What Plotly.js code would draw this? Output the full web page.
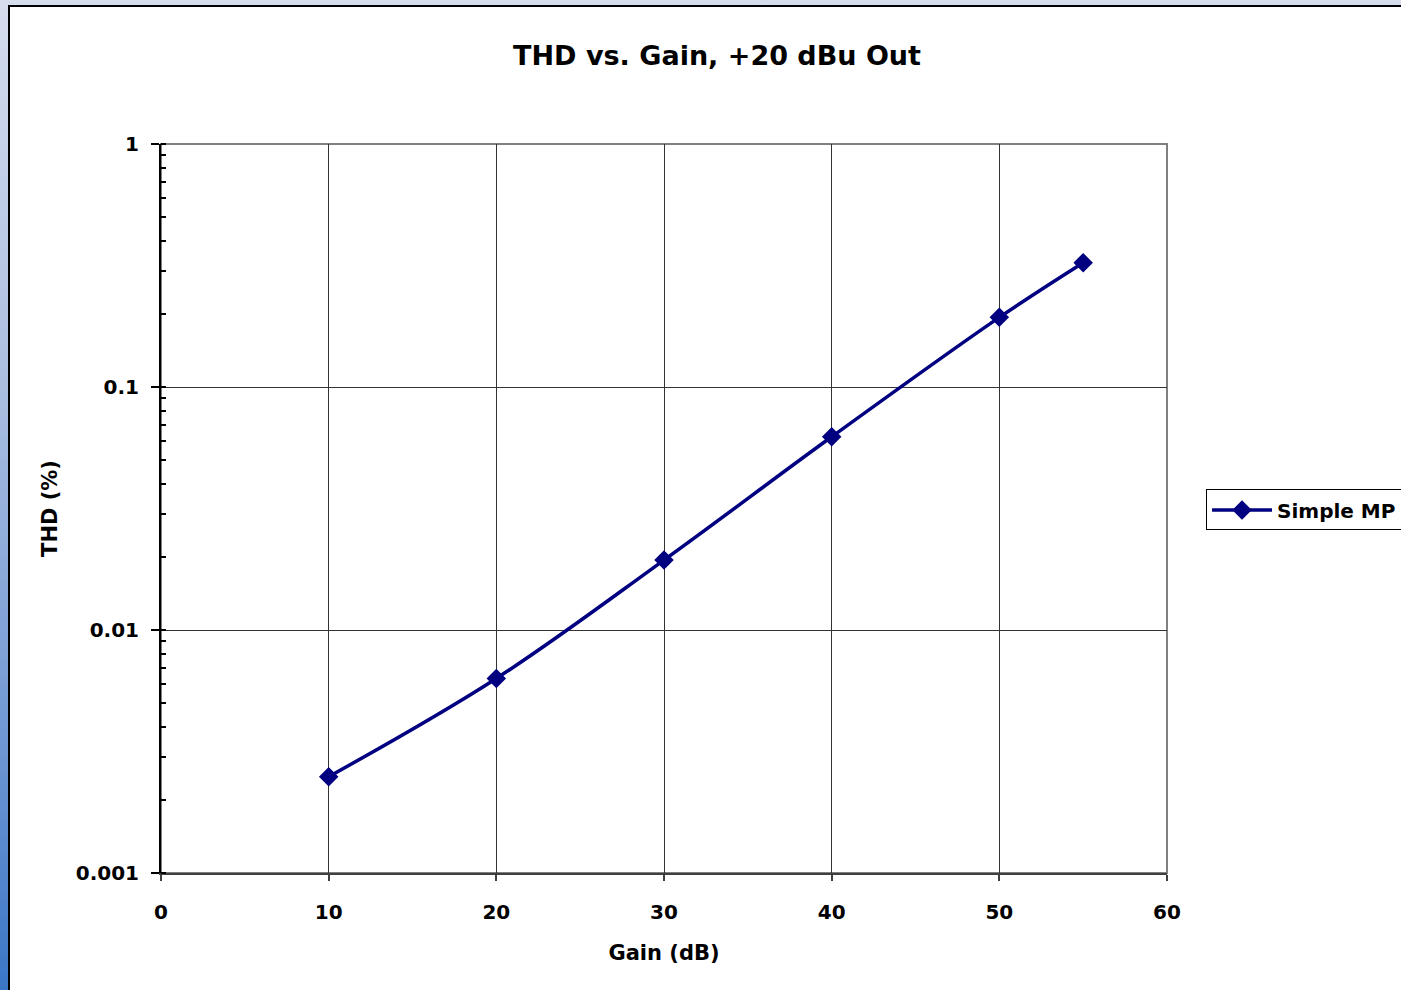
<!DOCTYPE html>
<html>
<head>
<meta charset="utf-8">
<script src="https://cdn.plot.ly/plotly-3.0.1.min.js"></script>
<style>
  html, body { margin: 0; padding: 0; width: 1401px; height: 990px; overflow: hidden; }
  body { background: linear-gradient(to bottom, #d6dded 0%, #a9bde0 40%, #6f97d3 75%, #3a76c6 100%); position: relative; }
  #frame { position: absolute; left: 8px; top: 5px; width: 1420px; height: 1010px; background: #fff; border-left: 2px solid #000; border-top: 2px solid #000; }
  #chart { position: absolute; left: 0; top: 0; width: 1401px; height: 990px; }
</style>
</head>
<body>
<div id="frame"></div>
<div id="chart"></div>
<script>
// Data
const seriesName = "Simple MP";
const gainDb = [10, 20, 30, 40, 50, 55];
const thdPct = [0.00249, 0.00632, 0.0194, 0.0624, 0.1935, 0.3247];
const yTickVals = [0.001, 0.01, 0.1, 1];
const yTickText = ["0.001", "0.01", "0.1", "1"];
const xTickVals = [0, 10, 20, 30, 40, 50, 60];

const FONT = "DejaVu Sans, Arial, sans-serif";

const trace = {
  x: gainDb,
  y: thdPct,
  name: seriesName,
  type: "scatter",
  mode: "lines+markers",
  line: { color: "#000080", width: 3.5, shape: "spline", smoothing: 1 },
  marker: { symbol: "diamond", size: 15, color: "#000080" },
  showlegend: true
};

const layout = {
  width: 1401,
  height: 990,
  paper_bgcolor: "rgba(0,0,0,0)",
  plot_bgcolor: "#ffffff",
  margin: { l: 161, r: 234, t: 144, b: 117, autoexpand: false },
  showlegend: true,
  title: {
    text: "THD vs. Gain, +20 dBu Out",
    font: { family: FONT, size: 27, color: "#000", weight: 700 },
    xref: "container", x: 0.5118,
    yref: "container", y: 0.9434, yanchor: "middle", xanchor: "center"
  },
  xaxis: {
    range: [0, 60],
    tickvals: xTickVals,
    ticks: "outside", ticklen: 6, tickwidth: 2, tickcolor: "#404040",
    showline: true, linecolor: "#404040", linewidth: 2,
    showgrid: true, gridcolor: "#333", gridwidth: 1,
    zeroline: false,
    tickfont: { family: FONT, size: 20, color: "#000", weight: 700 },
    ticklabelstandoff: 14,
    title: { text: "Gain (dB)", font: { family: FONT, size: 21, color: "#000", weight: 700 }, standoff: 22 }
  },
  yaxis: {
    type: "log",
    range: [-3, 0],
    tickvals: yTickVals,
    ticktext: yTickText,
    ticks: "outside", ticklen: 8, tickwidth: 2, tickcolor: "#000",
    minor: { ticks: "inside", ticklen: 5, tickwidth: 2, tickcolor: "#000", dtick: "D1", showgrid: false },
    showline: true, linecolor: "#000", linewidth: 2,
    showgrid: true, gridcolor: "#333", gridwidth: 1,
    zeroline: false,
    tickfont: { family: FONT, size: 20, color: "#000", weight: 700 },
    ticklabelstandoff: 8,
    title: { text: "THD (%)", font: { family: FONT, size: 21, color: "#000", weight: 700 }, standoff: 12 }
  },
  legend: {
    x: 1.0388, xanchor: "left",
    y: 0.498, yanchor: "middle",
    bgcolor: "#ffffff", bordercolor: "#000", borderwidth: 1,
    font: { family: FONT, size: 20, color: "#000", weight: 700 },
    itemwidth: 60
  },
  shapes: [
    { type: "rect", xref: "paper", yref: "paper", x0: 0, x1: 1, y0: 0, y1: 1,
      line: { color: "#808080", width: 2 }, layer: "below" }
  ]
};

Plotly.newPlot("chart", [trace], layout, { displayModeBar: false, staticPlot: true });
</script>
</body>
</html>
